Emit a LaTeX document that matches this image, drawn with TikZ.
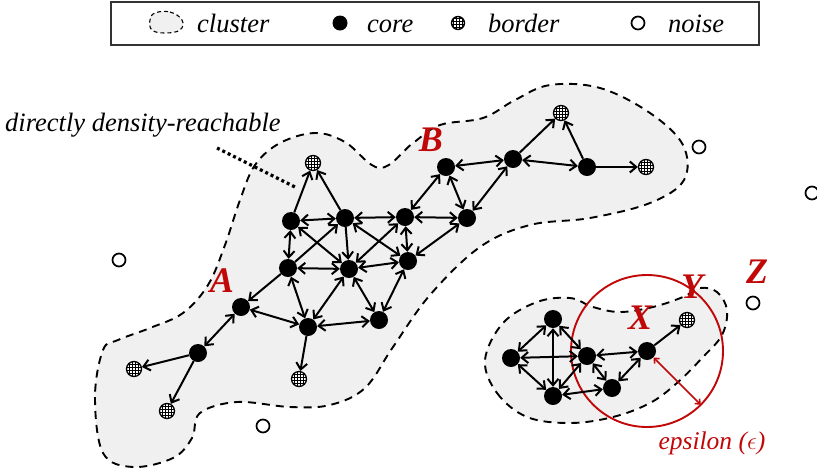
\documentclass[tikz,border=0pt]{standalone}
\usepackage{fontspec}
\setmainfont{Liberation Serif}
\usetikzlibrary{arrows.meta}
\definecolor{clusterfill}{RGB}{240,240,240}
\definecolor{epsred}{RGB}{192,8,8}

\tikzset{
  core/.style={circle,fill=black,minimum size=18pt,inner sep=0pt},
  borderpt/.style={circle,draw,line width=1.3pt,fill=white,minimum size=15pt,inner sep=0pt,
    path picture={
      \foreach \g in {-4.5,-1.5,1.5,4.5}{
        \draw[line width=0.6pt] ([xshift=\g pt]path picture bounding box.north) -- ([xshift=\g pt]path picture bounding box.south);
        \draw[line width=0.6pt] ([yshift=\g pt]path picture bounding box.west) -- ([yshift=\g pt]path picture bounding box.east);
      }}},
  noisept/.style={circle,draw,line width=1.7pt,minimum size=13pt,inner sep=0pt},
  barb/.tip={Straight Barb[length=6.5pt,width=11pt]},
  link/.style={line width=2pt,barb-barb},
  onelink/.style={line width=2pt,-barb},
  clusterline/.style={dash pattern=on 8pt off 6pt,line width=1.9pt,fill=clusterfill},
  tag/.style={text=epsred,font=\fontsize{36}{40}\selectfont\bfseries\itshape,inner sep=0pt},
  caption/.style={font=\fontsize{26.5}{30}\selectfont\itshape,inner sep=0pt},
}

\begin{document}
\begin{tikzpicture}[x=1pt,y=-1pt]
\useasboundingbox (0,0) rectangle (817,475);

% legend
\draw[line width=1.2pt,draw=black!80] (111,2) rectangle (759,45);
\draw[dash pattern=on 4pt off 3pt,line width=1.1pt,fill=clusterfill]
  plot[smooth cycle,tension=0.7] coordinates {(155,13) (170,12) (182,20) (180,30) (165,33) (152,30) (150,20)};
\node[caption,anchor=base west] (lgcluster) at (197,32) {cluster};
\node[core,minimum size=15pt] (lgcoredot) at (340,23) {};
\node[caption,anchor=base west] (lgcore) at (367,32) {core};
\node[borderpt,minimum size=13pt] (lgborderdot) at (458,23) {};
\node[caption,anchor=base west] (lgborder) at (488,32) {border};
\node[noisept] (lgnoisedot) at (638,23) {};
\node[caption,anchor=base west] (lgnoise) at (668,32) {noise};

% clusters
\draw[clusterline] plot[smooth cycle,tension=0.6] coordinates {
  (103,350) (95,397) (103,453) (133,467) (173,458) (192,438) (200,413) (237,402)
  (290,407) (330,405) (365,388) (393,347) (430,295) (480,247) (530,225) (590,218)
  (650,203) (684,180) (683,145) (650,113) (600,88) (550,85) (515,100) (483,118)
  (440,125) (413,143) (380,168) (345,142) (315,133) (280,143) (255,165) (240,200)
  (225,245) (208,285) (183,313) (150,328) (118,340)};
\draw[clusterline] plot[smooth cycle,tension=0.6] coordinates {
  (485,360) (497,393) (527,417) (570,423) (613,417) (650,403) (677,383) (703,357)
  (722,335) (727,310) (717,292) (700,288) (683,297) (653,307) (620,312) (593,307)
  (570,298) (537,302) (503,323)};

% big cluster: core points
\node[core] (a1) at (291,221) {};
\node[core] (a2) at (345,218) {};
\node[core] (a3) at (405,217) {};
\node[core] (a4) at (467,218) {};
\node[core] (aB) at (446,167) {};
\node[core] (a5) at (288,268) {};
\node[core] (a6) at (349,269) {};
\node[core] (a7) at (408,261) {};
\node[core] (aA) at (241,307) {};
\node[core] (a8) at (308,327) {};
\node[core] (a9) at (379,320) {};
\node[core] (a10) at (513,159) {};
\node[core] (a11) at (587,167) {};
\node[core] (a12) at (198,353) {};
% big cluster: border points
\node[borderpt] (bTop) at (313,163) {};
\node[borderpt] (bTR) at (561,113) {};
\node[borderpt] (bR) at (646,167) {};
\node[borderpt] (bL1) at (134,369) {};
\node[borderpt] (bL2) at (167,411) {};
\node[borderpt] (bBot) at (299,379) {};

% small cluster
\node[core] (c1) at (553,319) {};
\node[core] (c2) at (511,358) {};
\node[core] (c3) at (553,396) {};
\node[core] (c4) at (587,356) {};
\node[core] (c5) at (612,388) {};
\node[core] (cX) at (647,351) {};
\node[borderpt] (bY) at (687,320) {};

% noise points
\node[noisept] (z1) at (119,260) {};
\node[noisept] (z2) at (263,426) {};
\node[noisept] (z3) at (699,147) {};
\node[noisept] (z4) at (812,193) {};
\node[noisept] (zZ) at (753,303) {};

% epsilon neighbourhood
\draw[epsred,line width=1.9pt] (cX) circle[radius=76pt];
\path (cX) ++(-45:76pt) coordinate (epsrim);
\draw[epsred,line width=1.5pt,{Straight Barb[length=4pt,width=7pt]}-{Straight Barb[length=4pt,width=7pt]}]
  (cX.-45) -- (epsrim);

% one-way links
\foreach \s/\t in {a1/bTop,a2/bTop,a5/aA,a5/a2,a2/a6,a12/bL1,a12/bL2,a8/bBot,
                   a10/bTR,a11/bTR,a11/bR,cX/bY}
  \draw[onelink] (\s) -- (\t);
% two-way links
\foreach \s/\t in {a1/a2,a2/a3,a3/a4,a1/a5,a5/a6,a6/a7,a1/a6,a2/a7,a3/a6,a3/a7,
                   a4/a7,a5/a8,a6/a8,a6/a9,a7/a9,a8/a9,aA/a8,aA/a12,a3/aB,aB/a4,
                   a4/a10,aB/a10,a10/a11,
                   c1/c2,c1/c3,c1/c4,c2/c4,c2/c3,c3/c4,c3/c5,c4/c5,c4/cX,c5/cX}
  \draw[link] (\s) -- (\t);

% annotation
\node[caption,anchor=base west] (ddr) at (5,131) {directly density-reachable};
\coordinate (ddrA) at (217,148);
\coordinate (ddrB) at (297,188);
\draw[line width=3.2pt,dash pattern=on 3pt off 3pt] (ddrA) -- (ddrB);

% labels
\node[tag] (lA) at (222,281) {A};
\node[tag] (lB) at (431,140) {B};
\node[tag] (lX) at (640,318) {X};
\node[tag] (lY) at (692,287) {Y};
\node[tag] (lZ) at (757,272) {Z};
\node[caption,text=epsred,font=\fontsize{25.5}{30}\selectfont\itshape] (leps) at (712,443) {epsilon ($\epsilon$)};
\end{tikzpicture}
\end{document}
